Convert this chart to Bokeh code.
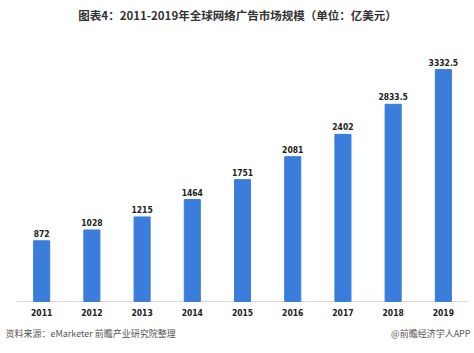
from bokeh.plotting import figure
from bokeh.models import ColumnDataSource, LabelSet, Label, Range1d
from bokeh.core.properties import value
from bokeh.embed import file_html
from bokeh.resources import INLINE

years = ["2011", "2012", "2013", "2014", "2015", "2016", "2017", "2018", "2019"]
values = [872, 1028, 1215, 1464, 1751, 2081, 2402, 2833.5, 3332.5]
value_labels = ["872", "1028", "1215", "1464", "1751", "2081", "2402", "2833.5", "3332.5"]

title_text = "图表4：2011-2019年全球网络广告市场规模（单位：亿美元）"
source_text = "资料来源：eMarketer  前瞻产业研究院整理"
brand_text = "@前瞻经济学人APP"

idx = list(range(len(years)))
src = ColumnDataSource(dict(x=idx, top=values, lab=value_labels, year=years,
                            zero=[0] * len(years)))

NUM_FONT = "'DejaVu Sans Condensed', Roboto, sans-serif"

p = figure(width=474, height=353, x_range=Range1d(-0.82, len(years) - 0.38),
           y_range=Range1d(-747, 4325), output_backend="svg", toolbar_location=None,
           min_border=0, min_border_left=0, min_border_right=0,
           min_border_top=0, min_border_bottom=0)
p.outline_line_color = None
p.background_fill_color = "white"
p.border_fill_color = "white"
p.grid.visible = False
p.axis.visible = False

# baseline axis line
p.segment(x0=[-0.5], y0=[0], x1=[len(years) - 0.5], y1=[0], line_color="#d9d9d9", line_width=1)

p.vbar(x="x", top="top", width=0.32, source=src, color="#3a7ddb")

p.add_layout(LabelSet(x="x", y="top", text="lab", source=src, text_align="center",
                      text_baseline="bottom", y_offset=4, text_font_size="8.5px",
                      text_font_style="bold", text_color="#222222",
                      text_font=value(NUM_FONT)))
p.add_layout(LabelSet(x="x", y="zero", text="year", source=src, text_align="center",
                      text_baseline="middle", y_offset=-11, text_font_size="8.5px",
                      text_font_style="bold", text_color="#222222",
                      text_font=value(NUM_FONT)))

p.add_layout(Label(x=237, y=339, x_units="screen", y_units="screen", text=title_text,
                   text_align="center", text_baseline="middle", text_font="Noto Sans CJK SC",
                   text_font_size="11.5px", text_font_style="bold", text_color="#333333"))
p.add_layout(Label(x=5, y=20, x_units="screen", y_units="screen", text=source_text,
                   text_align="left", text_baseline="middle", text_font="Noto Sans CJK SC",
                   text_font_size="9px", text_color="#555555"))
p.add_layout(Label(x=470, y=20, x_units="screen", y_units="screen", text=brand_text,
                   text_align="right", text_baseline="middle", text_font="Noto Sans CJK SC",
                   text_font_size="9px", text_color="#555555"))

open("out.html", "w").write(file_html(p, INLINE))
